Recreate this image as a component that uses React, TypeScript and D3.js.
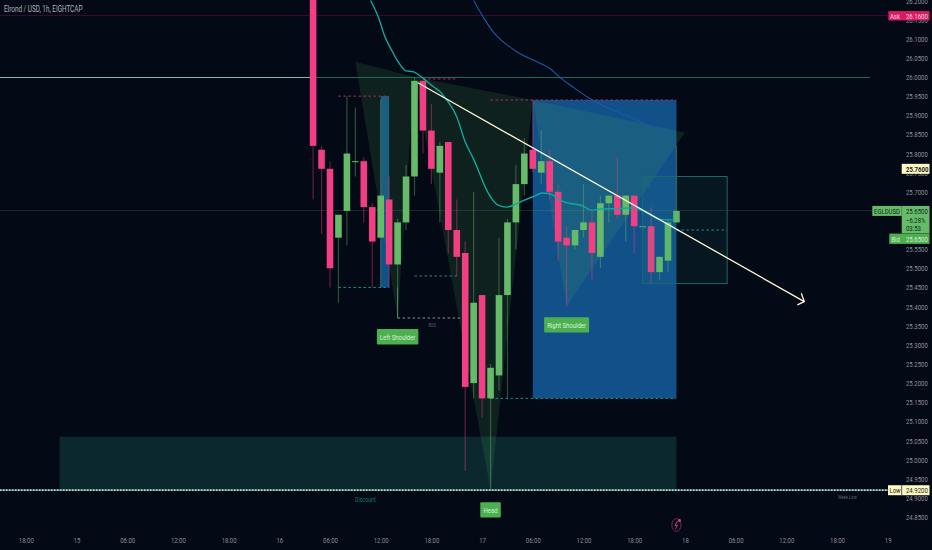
import { useEffect, useRef } from 'react';

import * as d3 from 'd3';

const width = 932;
const height = 550;
const font = 'Roboto, sans-serif';
// the reference was squeezed sideways, so all text gets narrowed by this much
const textSqueeze = 0.75;

const green = '#66bb6a';
const pink = '#f23e82';
const labelGreen = '#4caf50';
const paleYellow = '#fff9c4';

// hours since the 15th 00:00, one candle per hour
const firstCandleHour = 28;
const opens = [26.26, 25.81, 25.76, 25.58, 25.65, 25.78, 25.78, 25.66, 25.58, 25.68, 25.51, 25.62, 25.74, 25.99, 25.86, 25.75, 25.83, 25.6, 25.54, 25.2, 25.43, 25.16, 25.22, 25.43, 25.62, 25.72, 25.81, 25.75, 25.78, 25.7, 25.58, 25.56, 25.6, 25.62, 25.53, 25.67, 25.69, 25.64, 25.69, 25.61, 25.61, 25.49, 25.52, 25.62];
const highs = [26.3, 25.82, 25.78, 25.64, 25.95, 25.92, 25.79, 25.67, 25.94, 25.74, 25.63, 25.77, 26.0, 25.99, 25.93, 25.83, 25.83, 25.68, 25.57, 25.7, 25.43, 25.25, 25.58, 25.63, 25.77, 25.84, 25.94, 25.86, 25.81, 25.72, 25.61, 25.6, 25.72, 25.65, 25.69, 25.69, 25.79, 25.69, 25.69, 25.61, 25.66, 25.53, 25.63, 25.82];
const lows = [25.68, 25.59, 25.45, 25.41, 25.56, 25.74, 25.62, 25.45, 25.45, 25.45, 25.37, 25.6, 25.69, 25.8, 25.72, 25.62, 25.54, 25.48, 24.97, 25.16, 25.11, 24.92, 25.18, 25.16, 25.55, 25.69, 25.75, 25.72, 25.68, 25.52, 25.4, 25.55, 25.58, 25.47, 25.5, 25.62, 25.63, 25.57, 25.54, 25.6, 25.46, 25.47, 25.49, 25.62];
const closes = [25.82, 25.76, 25.5, 25.64, 25.8, 25.78, 25.66, 25.57, 25.69, 25.51, 25.62, 25.74, 25.99, 25.86, 25.76, 25.82, 25.6, 25.53, 25.19, 25.41, 25.16, 25.24, 25.43, 25.62, 25.72, 25.8, 25.76, 25.78, 25.7, 25.57, 25.56, 25.6, 25.62, 25.54, 25.67, 25.69, 25.64, 25.69, 25.61, 25.61, 25.49, 25.53, 25.62, 25.65];

const tealMa: [number, number][] = [[34.8, 26.2], [35.7, 26.158], [36.5, 26.105], [37.3, 26.07], [38.05, 26.04], [39, 26.016], [39.8, 26.014], [41, 25.997], [42.2, 25.975], [43, 25.962], [43.8, 25.94], [44.6, 25.914], [45, 25.896], [46, 25.83], [46.9, 25.79], [48.9, 25.69], [49.9, 25.665], [50.9, 25.66], [51.7, 25.665], [52.8, 25.676], [54, 25.687], [55.2, 25.697], [56, 25.695], [57.6, 25.674], [59.9, 25.663], [61, 25.652], [62, 25.655], [63.9, 25.656], [65.9, 25.658], [67.5, 25.645], [69, 25.628], [70.8, 25.626]];
const blueMa: [number, number][] = [[47, 26.2], [48.1, 26.158], [49.3, 26.118], [50.5, 26.092], [52.1, 26.066], [54.85, 26.036], [56, 26.023], [57.2, 25.999], [58.8, 25.973], [60.8, 25.943], [66.7, 25.883], [71, 25.835]];

const shoulderTriangles: [number, number][][] = [
    [[33, 26.04], [38, 25.37], [40, 26.0]],
    [[40, 26.0], [49, 24.92], [54, 25.94]],
    [[54, 25.94], [58, 25.4], [72, 25.855]]
];
const patternLabels = ['Left Shoulder', 'Head', 'Right Shoulder'];
const patternLabelHours = [38, 49, 58];
const patternLabelPrices = [25.37, 24.92, 25.4];

const blueBoxes: [number, number, number, number][] = [[36, 37, 25.95, 25.45], [54, 71, 25.94, 25.16]];
const discountZone: [number, number, number, number] = [-2, 71, 25.06, 24.92];
const projectionBox: [number, number, number, number] = [67, 77, 25.74, 25.46];

const pinkDashes: [number, number, number][] = [[31, 37, 25.95], [41, 45, 25.995], [49, 71, 25.94]];
const tealDashes: [number, number, number][] = [[31, 37, 25.45], [40, 45, 25.48], [49, 71, 25.16], [71, 77, 25.6]];
const whiteDashes: [number, number, number][] = [[38, 46, 25.37]];

const trendStart: [number, number] = [40.4, 25.985];
const trendEnd: [number, number] = [86.13, 25.413];

const priceTicks = [26.2, 26.15, 26.1, 26.05, 26.0, 25.95, 25.9, 25.85, 25.8, 25.75, 25.7, 25.65, 25.6, 25.55, 25.5, 25.45, 25.4, 25.35, 25.3, 25.25, 25.2, 25.15, 25.1, 25.05, 25.0, 24.95, 24.9, 24.85];
const timeTickHours = [-6, 0, 6, 12, 18, 24, 30, 36, 42, 48, 54, 60, 66, 72, 78, 84, 90, 96];
const timeTickLabels = ['18:00', '15', '06:00', '12:00', '18:00', '16', '06:00', '12:00', '18:00', '17', '06:00', '12:00', '18:00', '18', '06:00', '12:00', '18:00', '19'];

const askPrice = 26.16;
const lastPrice = 25.65;
const bidPrice = 25.65;
const highlightPrice = 25.76;
const levelPrice = 26.0;
const lowPrice = 24.92;
const countdown = ['25.6500', '−6.28%', '03:53'];

export default function App() {
    const chart = useRef<SVGSVGElement>(null);

    useEffect(() => {
        const svg = d3.select(chart.current);
        svg.selectAll('*').remove();

        const x = d3.scaleLinear().domain([0, 96]).range([76.5, 887.7]);
        const y = d3.scaleLinear().domain([26, 24.85]).range([77, 517]);

        const rectFrom = (g: any, [h0, h1, p0, p1]: number[], fill: string) =>
            g.append('rect')
                .attr('x', x(h0))
                .attr('y', y(p0))
                .attr('width', x(h1) - x(h0))
                .attr('height', y(p1) - y(p0))
                .attr('fill', fill);

        const plot = svg.append('g');

        // zones under the candles
        rectFrom(plot, discountZone, '#0a282e');
        blueBoxes.forEach((b) => rectFrom(plot, b, '#12508a'));

        const tri = d3.line<[number, number]>().x((d) => x(d[0])).y((d) => y(d[1]));
        plot.selectAll('path.tri')
            .data(shoulderTriangles)
            .enter()
            .append('path')
            .attr('d', (d) => `${tri(d)}Z`)
            .attr('fill', 'rgba(76,175,80,0.15)');

        // horizontal levels, only the solid ones stay crisp
        const hLine = (x0: number, x1: number, p: number, color: string, w = 1, dash = '') =>
            plot.append('line')
                .attr('x1', x0)
                .attr('x2', x1)
                .attr('y1', y(p))
                .attr('y2', y(p))
                .attr('stroke', color)
                .attr('stroke-width', w)
                .attr('stroke-dasharray', dash)
                .attr('shape-rendering', dash ? 'auto' : 'crispEdges');

        hLine(0, 888, askPrice, '#360d2e');
        hLine(0, 872, lastPrice, 'rgba(102,187,106,0.18)');
        hLine(0, 313, levelPrice, '#7dbba8');
        hLine(313, 870, levelPrice, '#1b6a5e');
        hLine(0, 888, lowPrice, '#4fa79a', 1.3, '3 0');
        hLine(0, 888, lowPrice, '#f2f2e6', 1.3, '1.5 1.5');

        pinkDashes.forEach(([a, b, p]) => hLine(x(a), x(b), p, '#a82c68', 1, '2.5 2.5'));
        tealDashes.forEach(([a, b, p]) => hLine(x(a), x(b), p, '#1f8f83', 1, '2.5 2.5'));
        whiteDashes.forEach(([a, b, p]) => hLine(x(a), x(b), p, '#8c8f9a', 1, '2.5 2.5'));
        plot.append('line')
            .attr('x1', x(38))
            .attr('x2', x(38))
            .attr('y1', y(25.45))
            .attr('y2', y(25.37))
            .attr('stroke', '#3f5f4c');

        // candles
        const bodyWidth = (x(1) - x(0)) * 0.78;
        const candles = plot
            .selectAll('g.candle')
            .data(opens.map((o, i) => ({ h: firstCandleHour + i, o, hi: highs[i], lo: lows[i], c: closes[i] })))
            .enter()
            .append('g');
        candles
            .append('line')
            .attr('x1', (d) => x(d.h))
            .attr('x2', (d) => x(d.h))
            .attr('y1', (d) => y(d.hi))
            .attr('y2', (d) => y(d.lo))
            .attr('stroke', (d) => (d.c >= d.o ? green : pink))
            .attr('stroke-opacity', 0.4)
            .attr('stroke-width', 1.2);
        candles
            .append('rect')
            .attr('x', (d) => x(d.h) - bodyWidth / 2)
            .attr('y', (d) => y(Math.max(d.o, d.c)))
            .attr('width', bodyWidth)
            .attr('height', (d) => Math.max(1, Math.abs(y(d.o) - y(d.c))))
            .attr('fill', (d) => (d.c >= d.o ? green : pink));

        // projection box sits above the blue one
        rectFrom(plot, projectionBox, 'rgba(32,150,135,0.1)').attr('stroke', '#1f6b66');

        const ma = d3.line<[number, number]>().x((d) => x(d[0])).y((d) => y(d[1])).curve(d3.curveMonotoneX);
        plot.append('path').attr('d', ma(blueMa)).attr('fill', 'none').attr('stroke', '#1b5ca3').attr('stroke-width', 1.1);
        plot.append('path').attr('d', ma(tealMa)).attr('fill', 'none').attr('stroke', '#12a89a').attr('stroke-width', 1.4);

        // trend arrow
        const [tipX, tipY] = [x(trendEnd[0]), y(trendEnd[1])];
        plot.append('path')
            .attr('d', `M${x(trendStart[0])},${y(trendStart[1])}L${tipX},${tipY}M${tipX - 3},${tipY - 8.4}L${tipX},${tipY}L${tipX - 7},${tipY + 3.3}`)
            .attr('fill', 'none')
            .attr('stroke', '#fdf8d8')
            .attr('stroke-width', 1.3);

        // pattern labels
        const labelWidths = [41.5, 20.5, 45];
        const labelOffsets = [11, 12, 10.6];
        patternLabels.forEach((name, i) => {
            const cx = x(patternLabelHours[i]);
            const top = y(patternLabelPrices[i]) + labelOffsets[i];
            plot.append('rect')
                .attr('x', cx - labelWidths[i] / 2)
                .attr('y', top)
                .attr('width', labelWidths[i])
                .attr('height', 15.4)
                .attr('rx', 1)
                .attr('fill', labelGreen);
            plot.append('text')
                .attr('x', cx)
                .attr('y', top + 10.6)
                .attr('text-anchor', 'middle')
                .attr('font-size', 8)
                .attr('fill', '#d8f0d8')
                .text(name);
        });

        const smallText = (tx: number, ty: number, text: string, size: number, color: string) =>
            plot.append('text').attr('x', tx).attr('y', ty).attr('font-size', size).attr('fill', color).text(text);
        smallText(355, 502, 'Discount', 7, '#0e7a6c');
        smallText(838, 499.5, 'Week Low', 5.5, '#5f6470');
        smallText(428.5, 327.5, 'BOS', 5, '#5f6470');

        // axes
        const priceAxis = d3.axisRight(y).tickValues(priceTicks).tickSize(0).tickPadding(0).tickFormat(d3.format('.4f') as any);
        svg.append('g')
            .attr('transform', 'translate(906,0)')
            .call(priceAxis)
            .call((g) => g.select('.domain').remove())
            .call((g) => g.selectAll('text').attr('fill', '#8f939c').attr('font-size', 8).attr('font-family', font));

        const timeAxis = d3
            .axisBottom(x)
            .tickValues(timeTickHours)
            .tickSize(0)
            .tickPadding(0)
            .tickFormat((_, i) => timeTickLabels[i]);
        svg.append('g')
            .attr('transform', 'translate(0,537)')
            .call(timeAxis)
            .call((g) => g.select('.domain').remove())
            .call((g) => g.selectAll('text').attr('fill', '#8a8d96').attr('font-size', 8).attr('font-family', font));

        // price tags on the right
        const tag = (x0: number, x1: number, top: number, bottom: number, fill: string) =>
            svg.append('rect').attr('x', x0).attr('y', top).attr('width', x1 - x0).attr('height', bottom - top).attr('fill', fill);
        const tagText = (tx: number, ty: number, text: string, color: string, anchor = 'start') =>
            svg.append('text')
                .attr('x', tx)
                .attr('y', ty)
                .attr('font-size', 8)
                .attr('text-anchor', anchor)
                .attr('fill', color)
                .text(text);
        const fmt = d3.format('.4f');

        const askY = y(askPrice);
        tag(888.3, 929.5, askY - 4.7, askY + 4.7, '#d81b60');
        tagText(895, askY + 3, 'Ask', '#f8d4e2', 'middle');
        tagText(906, askY + 3, fmt(askPrice), '#f8d4e2');

        const hlY = y(highlightPrice);
        tag(901.7, 929.5, hlY - 5, hlY + 5, paleYellow);
        tagText(906, hlY + 3, fmt(highlightPrice), '#1a1a1a').attr('font-weight', 700);

        const lastY = y(lastPrice);
        tag(872.3, 901.7, lastY - 5, lastY + 5, green);
        tagText(887, lastY + 3, 'EGLDUSD', '#0f2a18', 'middle');
        tag(901.7, 929.5, lastY - 5, lastY + 22.5, green);
        countdown.forEach((t, i) => tagText(906, lastY + 3 + [0, 8.7, 17][i], t, '#0f2a18'));

        const bidY = y(bidPrice) + 28;
        tag(889.3, 929.5, bidY - 5.3, bidY + 5, labelGreen);
        tagText(895.5, bidY + 3, 'Bid', '#d8f0d8', 'middle');
        tagText(906, bidY + 3, fmt(bidPrice), '#d8f0d8');

        const lowY = y(lowPrice);
        tag(888, 929.5, lowY - 5, lowY + 5, paleYellow);
        tagText(895, lowY + 3, 'Low', '#1a1a1a', 'middle');
        svg.append('line').attr('x1', 901.7).attr('x2', 901.7).attr('y1', lowY - 5).attr('y2', lowY + 5).attr('stroke', '#555');
        tagText(906, lowY + 3, fmt(lowPrice), '#1a1a1a');

        // lightning marker above the time axis
        const mx = x(71);
        svg.append('ellipse').attr('cx', mx).attr('cy', 525).attr('rx', 4.6).attr('ry', 6.4).attr('fill', 'none').attr('stroke', '#7a2a5a');
        svg.append('path').attr('d', `M${mx + 1},${521}L${mx - 1.5},${525.5}L${mx + 1},${525}L${mx - 1},${529}`).attr('fill', 'none').attr('stroke', '#c2407a');
        svg.append('circle').attr('cx', mx + 3).attr('cy', 520.5).attr('r', 1.4).attr('fill', pink);

        // title
        svg.append('text').attr('x', 4).attr('y', 12.5).attr('font-size', 8.5).attr('fill', '#b2b5be').text('Elrond / USD, 1h, EIGHTCAP');

        // narrow every text around its own anchor x
        svg.selectAll<SVGTextElement, unknown>('text').each(function squeeze() {
            const tx = +(this.getAttribute('x') || 0);
            d3.select(this).attr('transform', `translate(${tx * (1 - textSqueeze)},0) scale(${textSqueeze},1)`);
        });
    }, []);

    return (
        <svg
            ref={chart}
            width={width}
            height={height}
            fontFamily={font}
            style={{ position: 'absolute', left: 0, top: 0, background: '#040916' }}
        />
    );
}
